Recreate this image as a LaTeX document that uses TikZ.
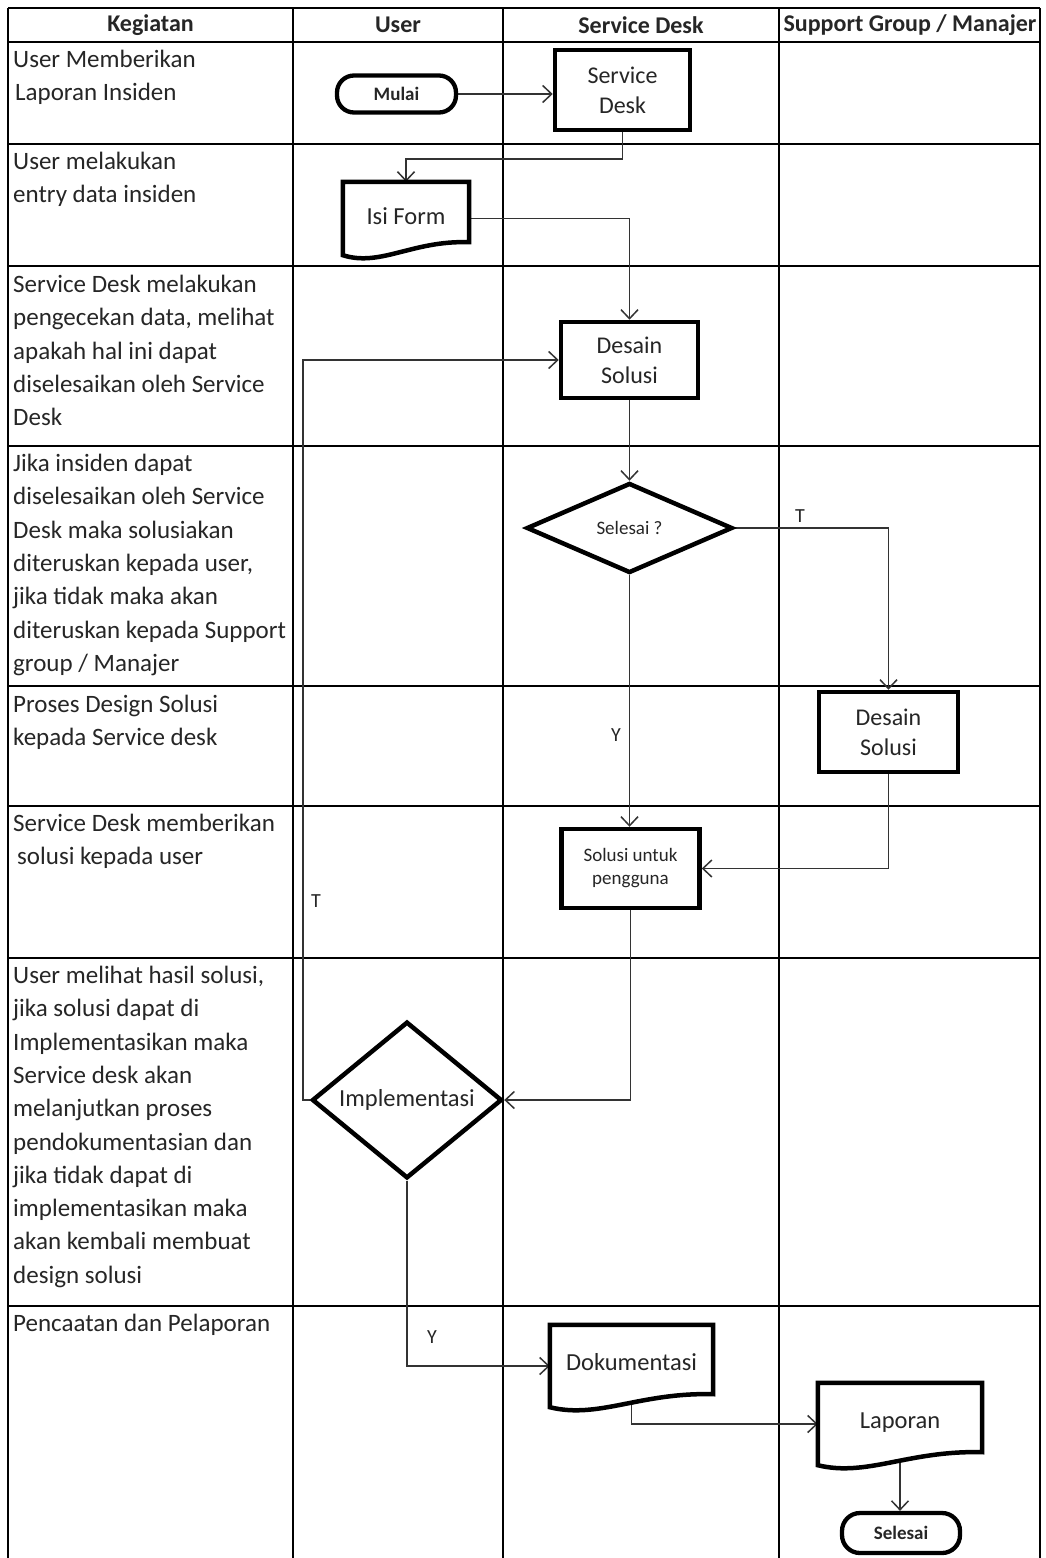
\documentclass[tikz,border=0pt]{standalone}
\usepackage{fontspec}
\setmainfont{Carlito}
\usetikzlibrary{arrows.meta,shapes.geometric,calc}
\definecolor{ink}{HTML}{262626}
\definecolor{wire}{HTML}{333333}
\pgfdeclarelayer{paper}
\pgfdeclarelayer{grid}
\pgfdeclarelayer{shapefill}
\pgfsetlayers{paper,grid,shapefill,main}

% document symbol: straight top and sides, wavy bottom edge
\newcommand\docoutline[1]{%
  \begin{pgfonlayer}{shapefill}
  \draw[docline] (#1.north west) -- (#1.north east) -- ($(#1.south east)+(0,-13)$)
     .. controls ($(#1.south east)!0.45!(#1.south west)+(0,-15)$)
        and ($(#1.south west)!0.3!(#1.south east)+(0,12)$) .. (#1.south west) -- cycle;
  \end{pgfonlayer}}

\begin{document}
\begin{tikzpicture}[x=1pt,y=-1pt,
  gridline/.style={line width=1.6pt,black},
  head/.style={font=\bfseries\fontsize{24}{28}\selectfont,text=ink,inner sep=0pt},
  cell/.style={anchor=north west,inner sep=0pt,align=left,
    font=\fontsize{25}{33.3}\selectfont,text=ink},
  procbox/.style={draw=black,line width=4.5pt,fill=white,rectangle,align=center,
    inner sep=0pt,text=ink,font=\fontsize{24}{30}\selectfont},
  term/.style={draw=black,line width=4.3pt,fill=white,rectangle,rounded corners=17pt,
    inner sep=0pt,text=ink,font=\bfseries\fontsize{19}{23}\selectfont},
  decision/.style={draw=black,line width=4.5pt,fill=white,diamond,inner sep=0pt,
    text=ink,align=center},
  docnode/.style={rectangle,inner sep=0pt,text=ink,font=\fontsize{24.5}{30}\selectfont},
  docline/.style={draw=black,line width=4.5pt,fill=white,line join=miter},
  flow/.style={draw=wire,line width=1.7pt,
    -{Straight Barb[length=9pt,width=17pt,line width=1.5pt]}},
  flag/.style={inner sep=0pt,text=ink,font=\fontsize{20}{24}\selectfont}
]
\begin{pgfonlayer}{paper}
\fill[white] (0,0) rectangle (1046,1558);
\end{pgfonlayer}
\useasboundingbox (0,0) rectangle (1046,1558);

% swimlane table
\begin{pgfonlayer}{grid}
\foreach \x in {8,293,503,779,1040}
  \draw[gridline] (\x,8) -- (\x,1558);
\foreach \y in {8,42,144,266,446,686,806,958,1306}
  \draw[gridline] (8,\y) -- (1040,\y);
\end{pgfonlayer}

% column headings
\node[head] (hKeg) at (150.5,25) {Kegiatan};
\node[head] (hUser) at (398,25) {User};
\node[head] (hSD) at (641,25) {Service Desk};
\node[head] (hSup) at (910,25) {Support Group / Manajer};

% activity descriptions
\node[cell] (c1) at (13,44) {\strut User Memberikan\\\hspace*{2pt}Laporan Insiden};
\node[cell] (c2) at (13,146) {\strut User melakukan\\entry data insiden};
\node[cell] (c3) at (13,269) {\strut Service Desk melakukan\\pengecekan data, melihat\\apakah hal ini dapat\\diselesaikan oleh Service\\Desk};
\node[cell] (c4) at (13,448) {\strut Jika insiden dapat\\diselesaikan oleh Service\\Desk maka solusiakan\\diteruskan kepada user,\\jika tidak maka akan\\diteruskan kepada Support\\group / Manajer};
\node[cell] (c5) at (13,689) {\strut Proses Design Solusi\\kepada Service desk};
\node[cell] (c6) at (13,808) {\strut Service Desk memberikan\\\hspace*{4pt}solusi kepada user};
\node[cell] (c7) at (13,960) {\strut User melihat hasil solusi,\\jika solusi dapat di\\Implementasikan maka\\Service desk akan\\melanjutkan proses\\pendokumentasian dan\\jika tidak dapat di\\implementasikan maka\\akan kembali membuat\\design solusi};
\node[cell] (c8) at (13,1308) {\strut Pencaatan dan Pelaporan};

% flowchart symbols
\node[term,minimum width=119pt,minimum height=37pt] (mulai) at (396.5,94) {Mulai};
\node[procbox,minimum width=135pt,minimum height=80pt] (sd) at (622.5,90) {Service\\Desk};
\node[docnode,minimum width=126pt,minimum height=73pt] (isi) at (406,218.5) {\raisebox{5pt}{Isi Form}};
\node[procbox,minimum width=137pt,minimum height=76pt] (ds1) at (629.5,360) {Desain\\Solusi};
\node[decision,minimum width=206pt,minimum height=90pt,font=\fontsize{19}{23}\selectfont] (sel) at (629.5,528) {Selesai ?};
\node[procbox,minimum width=139pt,minimum height=80pt] (ds2) at (888.5,732) {Desain\\Solusi};
\node[procbox,minimum width=138pt,minimum height=79pt,font=\fontsize{19}{23}\selectfont] (sol) at (630.5,868.5) {Solusi untuk\\pengguna};
\node[decision,minimum width=190pt,minimum height=154pt,font=\fontsize{24.5}{30}\selectfont] (impl) at (407,1100) {Implementasi};
\node[docnode,minimum width=163pt,minimum height=82pt] (dok) at (631.5,1366) {\raisebox{8pt}{Dokumentasi}};
\node[docnode,minimum width=164pt,minimum height=82pt] (lap) at (900,1424) {\raisebox{6pt}{Laporan}};
\node[term,minimum width=118pt,minimum height=40pt,rounded corners=18pt] (selesai) at (901,1533) {Selesai};

\docoutline{isi}
\docoutline{dok}
\docoutline{lap}

% connectors
\begin{pgfonlayer}{grid}
\draw[flow] (mulai.east) -- (sd.west |- mulai.east);
\draw[flow] (sd.south) -- ++(0,27) -| (isi.north);
\draw[flow] (isi.east) -| (ds1.north);
\draw[flow] (impl.west) -- ++(-7,0) |- (ds1.west);
\draw[flow] (ds1.south) -- (sel.north);
\draw[flow] (sel.east) -| (ds2.north);
\draw[flow] (sel.south) -- (sel.south |- sol.north);
\draw[flow] (ds2.south) |- (sol.east);
\draw[flow] (sol.south) |- (impl.east);
\draw[flow] (impl.south) |- (dok.west);
\draw[flow] (dok.center) |- (lap.west);
\draw[flow] (lap.center) -- (lap.center |- selesai.north);
\end{pgfonlayer}

% branch labels
\node[flag] (tSel) at (800,516) {T};
\node[flag] (yStay) at (616,735) {Y};
\node[flag] (tImpl) at (316,901) {T};
\node[flag] (yImpl) at (432,1337) {Y};
\end{tikzpicture}
\end{document}
